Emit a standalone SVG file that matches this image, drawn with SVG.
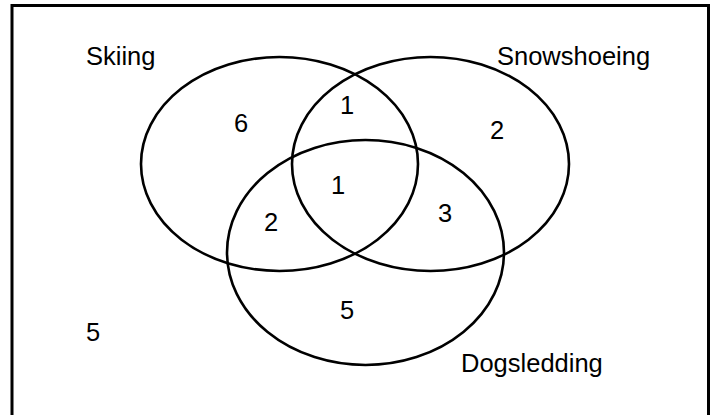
<svg xmlns="http://www.w3.org/2000/svg" width="717" height="415" viewBox="0 0 717 415">
<style>
.set{fill:none;stroke:#000;stroke-width:2.6}
.lbl{font-family:"Liberation Sans",Arial,sans-serif;font-size:25.5px;fill:#000}
.num{font-family:"Liberation Sans",Arial,sans-serif;font-size:25.5px;fill:#000;text-anchor:middle}
</style>
<rect x="0" y="0" width="717" height="415" fill="#fff"/>
<rect id="frame" x="12" y="5.5" width="696.5" height="420" fill="none" stroke="#000" stroke-width="3"/>
<g id="skiing">
<ellipse class="set" cx="279.5" cy="164" rx="138.5" ry="107"/>
<text class="lbl" x="86" y="65">Skiing</text>
</g>
<g id="snowshoeing">
<ellipse class="set" cx="430.5" cy="164" rx="138.5" ry="107"/>
<text class="lbl" x="497" y="65">Snowshoeing</text>
</g>
<g id="dogsledding">
<ellipse class="set" cx="365.5" cy="252.5" rx="138.5" ry="112.5"/>
<text class="lbl" x="461" y="372">Dogsledding</text>
</g>
<g id="counts">
<text class="num" x="241" y="132">6</text>
<text class="num" x="347" y="114">1</text>
<text class="num" x="497" y="139">2</text>
<text class="num" x="338" y="194">1</text>
<text class="num" x="271" y="231">2</text>
<text class="num" x="445" y="222">3</text>
<text class="num" x="347" y="319">5</text>
<text class="num" x="93" y="341">5</text>
</g>
</svg>
